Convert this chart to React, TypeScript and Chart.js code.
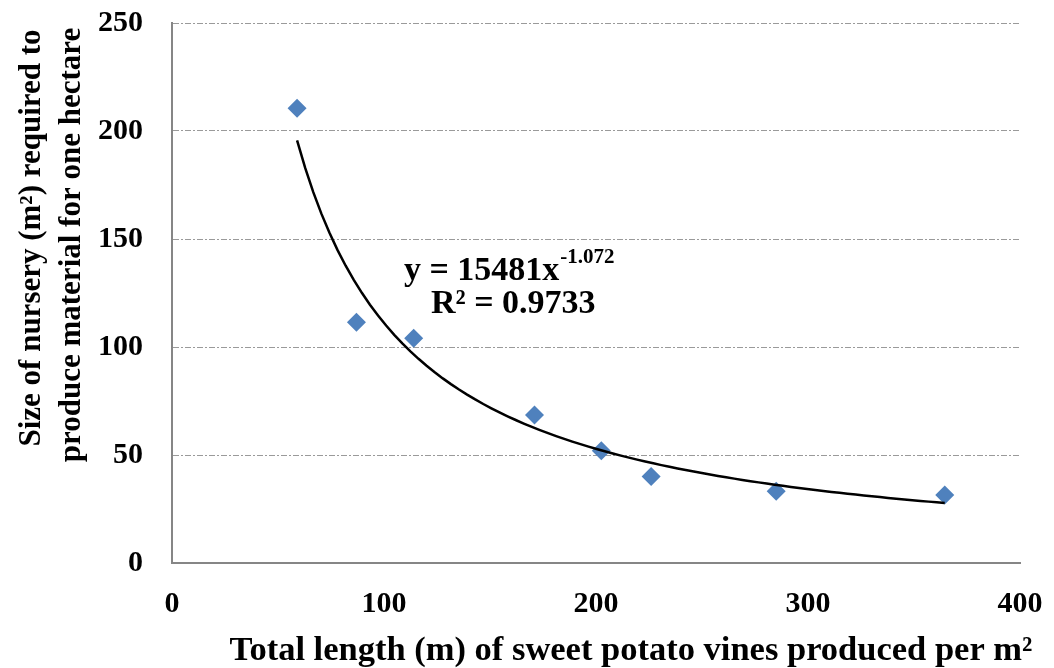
import React, { useEffect, useRef } from "react";
import { Chart, registerables } from "chart.js";

Chart.register(...registerables);

const vineLength = [59, 87, 114, 171, 202.5, 226, 285, 364.5];
const nurserySize = [210.5, 111.5, 104, 68.5, 52, 40, 33.2, 31.5];

// Power trendline shown on the chart: y = 15481 x^-1.072
const fitCoef = 15481;
const fitExp = -1.072;
const fitSamples = 80;

const xTickLabels = ["0", "100", "200", "300", "400"];
const yTickLabels = ["0", "50", "100", "150", "200", "250"];

const yTitleLines = ["Size of nursery (m²) required to", "produce material for one hectare"];
const xTitle = "Total length (m) of sweet potato vines produced per m²";
const eqMain = "y = 15481x";
const eqSup = "-1.072";
const eqR2 = "R² = 0.9733";

const FONT = '"Liberation Serif", "Times New Roman", serif';

export default function App() {
  const ref = useRef<HTMLCanvasElement | null>(null);

  useEffect(() => {
    document.body.style.margin = "0";
    const canvas = ref.current;
    if (!canvas) return;

    const xMin = Math.min(...vineLength);
    const xMax = Math.max(...vineLength);
    const trend: { x: number; y: number }[] = [];
    for (let i = 0; i <= fitSamples; i++) {
      const x = xMin + ((xMax - xMin) * i) / fitSamples;
      trend.push({ x, y: fitCoef * Math.pow(x, fitExp) });
    }

    const textPlugin = {
      id: "texts",
      afterDraw(chart: any) {
        const ctx = chart.ctx as CanvasRenderingContext2D;
        ctx.save();
        ctx.fillStyle = "#000";

        // Y title
        ctx.font = `bold 31px ${FONT}`;
        ctx.textAlign = "center";
        ctx.textBaseline = "middle";
        const yPos = [[32, 238], [72, 245]];
        yTitleLines.forEach((t, i) => {
          ctx.save();
          ctx.translate(yPos[i][0], yPos[i][1]);
          ctx.rotate(-Math.PI / 2);
          ctx.fillText(t, 0, 0);
          ctx.restore();
        });

        // X title
        ctx.font = `bold 34.5px ${FONT}`;
        ctx.textAlign = "center";
        ctx.textBaseline = "alphabetic";
        ctx.fillText(xTitle, 631, 660);

        // Equation
        ctx.textAlign = "left";
        ctx.font = `bold 34px ${FONT}`;
        ctx.fillText(eqMain, 404, 280);
        const w = ctx.measureText(eqMain).width;
        ctx.font = `bold 21px ${FONT}`;
        ctx.fillText(eqSup, 404 + w + 1, 263);
        ctx.font = `bold 34px ${FONT}`;
        ctx.fillText(eqR2, 431, 313);
        ctx.restore();
      },
    };

    const chart = new Chart(canvas, {
      type: "scatter",
      data: {
        datasets: [
          {
            label: "Trend",
            data: trend,
            showLine: true,
            borderColor: "#000",
            borderWidth: 2.5,
            pointRadius: 0,
            fill: false,
            order: 0,
          },
          {
            label: "Nursery size",
            data: vineLength.map((x, i) => ({ x, y: nurserySize[i] })),
            pointStyle: "rectRot",
            pointRadius: 9.5,
            pointBackgroundColor: "#4F81BD",
            pointBorderColor: "#4F81BD",
            pointBorderWidth: 0,
            showLine: false,
            order: 1,
          },
        ],
      },
      options: {
        responsive: false,
        animation: false,
        layout: { padding: { left: 0, right: 34, top: 23, bottom: 0 } },
        plugins: { legend: { display: false }, tooltip: { enabled: false } },
        scales: {
          x: {
            type: "linear",
            min: 0,
            max: 400,
            afterBuildTicks: (s: any) => {
              s.ticks = xTickLabels.map((v) => ({ value: Number(v) }));
            },
            ticks: {
              color: "#000",
              font: { family: FONT, size: 30, weight: "bold" },
              padding: 23,
              maxRotation: 0,
              callback: (v: any) => String(v),
            },
            grid: { display: false, drawTicks: false },
            border: { color: "#868686", width: 2 },
            afterFit: (s: any) => {
              s.height = 105;
              s.paddingLeft = 0;
              s.paddingRight = 0;
            },
          },
          y: {
            type: "linear",
            min: 0,
            max: 250,
            afterBuildTicks: (s: any) => {
              s.ticks = yTickLabels.map((v) => ({ value: Number(v) }));
            },
            ticks: {
              color: "#000",
              font: { family: FONT, size: 30, weight: "bold" },
              padding: 29,
              callback: (v: any) => String(v),
            },
            grid: { color: "#9a9a9a", lineWidth: 1, drawTicks: false },
            border: { color: "#868686", width: 2, dash: [6, 2, 2, 2] },
            afterFit: (s: any) => {
              s.width = 172;
              s.paddingTop = 0;
              s.paddingBottom = 0;
            },
          },
        },
      },
      plugins: [textPlugin],
    } as any);

    return () => chart.destroy();
  }, []);

  return (
    <div style={{ width: 1054, height: 668 }}>
      <canvas ref={ref} width={1054} height={668} style={{ display: "block" }} />
    </div>
  );
}
